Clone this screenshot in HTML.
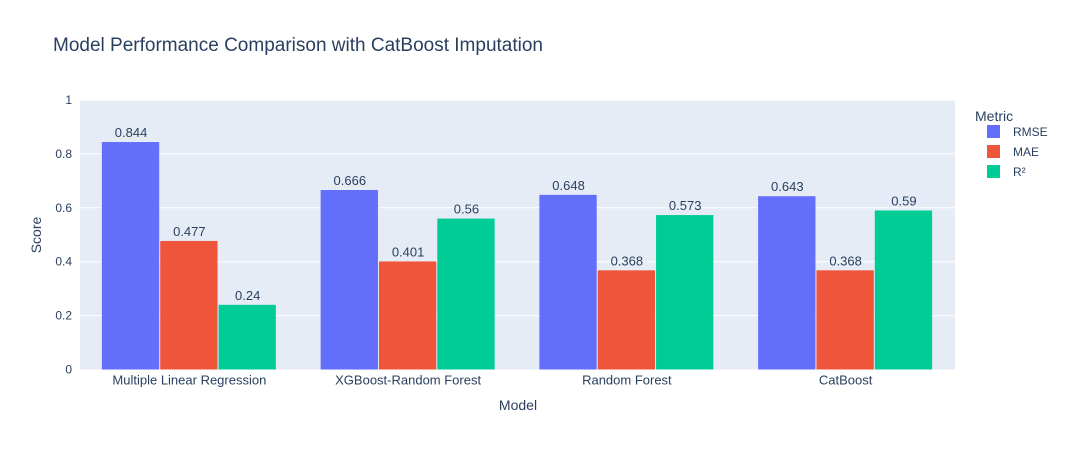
<!DOCTYPE html>
<html><head><meta charset="utf-8"><style>
body{margin:0;background:#fff;font-family:"Liberation Sans",Arial,sans-serif;}
</style></head><body>
<svg id="chart" width="1065" height="450" xmlns="http://www.w3.org/2000/svg">
<rect width="1065" height="450" fill="#fff"/>
<text x="53" y="51" font-size="19" fill="#2a3f5f">Model Performance Comparison with CatBoost Imputation</text>
<rect x="80" y="100" width="875" height="269.5" fill="#e5ecf6"/>
<g id="grid"></g><g id="bars"></g><g id="labels"></g>
<text x="518" y="410" font-size="14" fill="#2a3f5f" text-anchor="middle">Model</text>
<text transform="translate(41,235) rotate(-90)" font-size="14" fill="#2a3f5f" text-anchor="middle">Score</text>
<g id="legend">
<text x="975" y="121" font-size="14" fill="#2a3f5f">Metric</text>
</g>
</svg>
<script>
const categories=["Multiple Linear Regression","XGBoost-Random Forest","Random Forest","CatBoost"];
const seriesNames=["RMSE","MAE","R²"];
const rmse=[0.844,0.666,0.648,0.643];
const mae=[0.477,0.401,0.368,0.368];
const r2=[0.24,0.56,0.573,0.59];
const yTicks=[0,0.2,0.4,0.6,0.8,1];
const yTickLabels=["0","0.2","0.4","0.6","0.8","1"];
const colors=["#636efa","#ef553b","#00cc96"];
const series=[rmse,mae,r2];
const NS="http://www.w3.org/2000/svg";
const x0=80,x1=955,yb=369.5,yt=100;
const y=v=>yb-(yb-yt)*v;
const groupW=(x1-x0)/categories.length;
const barW=groupW*0.8/series.length;
const xc=i=>x0+groupW*(i+0.5);
function mk(tag,attrs,parent,text){const e=document.createElementNS(NS,tag);for(const k in attrs)e.setAttribute(k,attrs[k]);if(text!=null)e.textContent=text;document.getElementById(parent).appendChild(e);return e;}
yTicks.forEach((t,i)=>{
 if(t>0){const l=mk('line',{x1:x0,x2:x1,y1:y(t),y2:y(t),stroke:'#fff','stroke-width':1},'grid');
 
 }
 const tx=mk('text',{x:x0-8,y:y(t)+4,'font-size':12,fill:'#2a3f5f','text-anchor':'end'},'grid',yTickLabels[i]);
 
 
});
categories.forEach((c,i)=>{
 const tx=mk('text',{x:xc(i),y:yb+15,'font-size':13,fill:'#2a3f5f','text-anchor':'middle'},'grid',c);
 
 
 series.forEach((s,j)=>{
  const bx=xc(i)-groupW*0.4+j*barW;
  const r=mk('rect',{x:bx,y:y(s[i]),width:barW-1,height:yb-y(s[i]),fill:colors[j]},'bars');
  
  
  const t=mk('text',{x:bx+barW/2,y:y(s[i])-5,'font-size':13,fill:'#2a3f5f','text-anchor':'middle'},'labels',String(s[i]));
  
  
 });
});
seriesNames.forEach((n,j)=>{
 const yy=131+j*20;
 const r=mk('rect',{x:987,y:yy-6,width:13,height:13,fill:colors[j]},'legend');
 
 
 const t=mk('text',{x:1013,y:yy+5,'font-size':12,fill:'#2a3f5f'},'legend',n);
 
 
});
</script>
</body></html>
